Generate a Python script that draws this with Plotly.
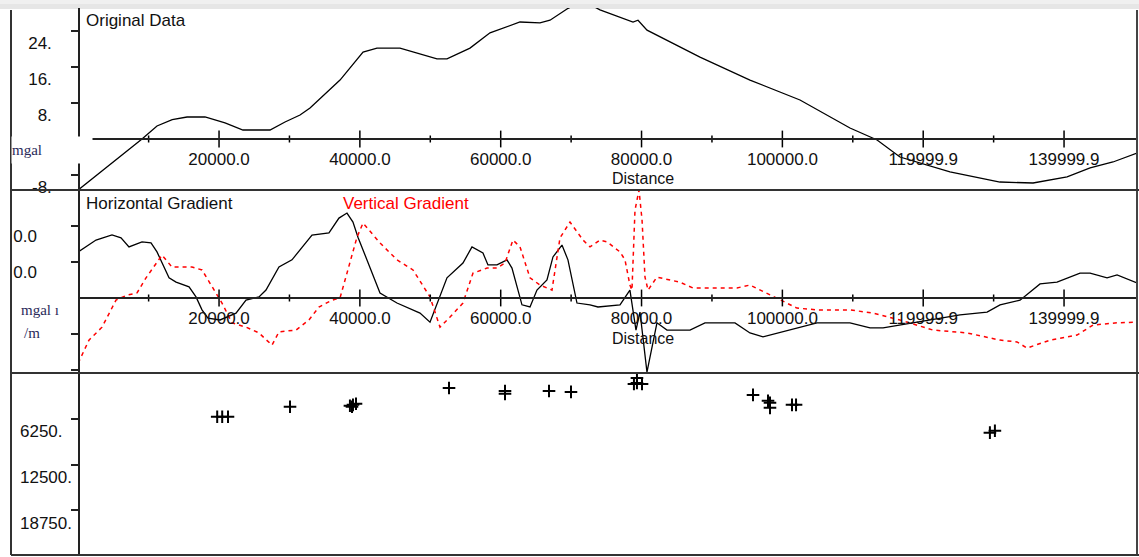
import plotly.graph_objects as go

# ---------------- data ----------------
# Panel 1: Original Data (mgal) vs Distance
orig_dist = [0, 9060, 11190, 13350, 15460, 18010, 20850, 23400, 27240, 29370, 31500, 32920,
             37180, 40450, 42430, 45700, 50950, 52370, 55640, 58480, 62740, 65580, 67000,
             69410, 71690, 74100, 78790, 79500, 80780, 84470, 88300, 95400, 102500, 109600,
             113450, 116700, 123800, 130900, 133750, 135600, 140430, 143700, 146950, 150360]
orig_val = [-11.33, 0.0, 2.89, 4.3, 4.89, 4.89, 3.56, 2.0, 2.0, 3.78, 5.33, 6.89,
            13.1, 19.3, 20.2, 20.2, 17.8, 17.8, 20.2, 23.6, 26.0, 25.8, 26.4,
            28.9, 30.7, 28.7, 26.0, 26.4, 24.2, 21.3, 18.2, 13.1, 8.67, 2.44,
            -0.22, -4.0, -7.33, -9.56, -9.78, -9.78, -8.44, -6.44, -5.11, -3.11]

# Panel 2: Horizontal gradient (units of tick step)
hg_dist = [0, 2530, 4800, 6080, 7210, 9060, 10340, 11190, 12900, 13900, 15740, 16730, 17580,
           18430, 20140, 22410, 23830, 25670, 26670, 28510, 30360, 33200, 35610, 37030,
           38170, 39020, 39730, 41010, 42860, 45270, 48540, 49960, 51380, 52370, 54640,
           55920, 57480, 58190, 59470, 60890, 61600, 63020, 64160, 65150, 66570, 67420,
           68700, 69550, 70830, 72680, 73810, 76940, 78350, 79210, 79780, 80770, 82190,
           83610, 86880, 89010, 93270, 95400, 97250, 100090, 102500, 104920, 109600,
           112450, 114300, 119130, 125230, 129070, 130910, 133750, 136590, 139000,
           142270, 143700, 146110, 147530, 150360]
hg_val = [1.28, 1.61, 1.75, 1.67, 1.42, 1.56, 1.53, 1.28, 0.56, 0.44, 0.31, 0.03, -0.33,
          -0.56, -0.61, -0.42, -0.06, 0.03, 0.22, 0.86, 1.06, 1.75, 1.81, 2.22,
          2.36, 2.11, 1.69, 1.06, 0.14, -0.14, -0.42, -0.67, 0.03, 0.56, 0.97,
          1.42, 1.25, 0.92, 0.92, 1.06, 0.83, -0.19, -0.25, 0.22, 0.5, 1.14,
          1.47, 1.06, -0.14, -0.19, -0.25, -0.19, 0.22, -0.89, -0.39, -2.06, -0.69,
          -0.89, -0.89, -0.69, -0.69, -0.97, -1.08, -0.94, -0.81, -0.69, -0.69,
          -0.83, -0.83, -0.67, -0.47, -0.39, -0.19, -0.06, 0.39, 0.44,
          0.69, 0.69, 0.56, 0.64, 0.42]

# Panel 2: Vertical gradient
vg_dist = [0, 1530, 3380, 5370, 6930, 8350, 9630, 11900, 13320, 16160, 17580, 19000, 20420,
           21840, 23830, 25670, 27520, 28510, 30930, 32770, 34190, 36040, 37180, 38170,
           39590, 40450, 42860, 45270, 47540, 49960, 51380, 52800, 54640, 56060, 58050,
           59470, 60600, 61740, 62740, 64160, 65580, 67280, 68420, 69840, 71690, 72680,
           74100, 75100, 76940, 77650, 78350, 78640, 79070, 79640, 80070, 80490, 80920,
           82190, 85460, 87300, 90140, 93550, 95400, 96820, 99230, 102070, 104920,
           109600, 112870, 116700, 121390, 126220, 130910, 133320, 134740, 138010,
           141840, 144120, 147530, 150360]
vg_val = [-1.81, -1.17, -0.81, -0.06, 0.08, 0.14, 0.56, 1.19, 0.86, 0.86, 0.78, 0.31, -0.14,
          -0.69, -0.81, -0.97, -1.31, -0.94, -0.89, -0.61, -0.25, -0.06, 0.0, 0.69,
          1.69, 2.08, 1.53, 1.06, 0.78, 0.03, -0.81, -0.53, -0.14, 0.69, 0.83,
          0.83, 0.97, 1.61, 1.42, 0.56, 0.36, 0.22, 1.67, 2.11, 1.61, 1.42,
          1.61, 1.56, 1.28, 1.06, 0.36, 0.22, 2.44, 3.0, 2.17, 0.58, 0.22,
          0.58, 0.44, 0.28, 0.28, 0.28, 0.36, 0.22, 0.0, -0.28, -0.33,
          -0.33, -0.42, -0.61, -0.89, -0.97, -1.17, -1.22, -1.39, -1.17,
          -1.03, -0.75, -0.69, -0.67]

# Panel 3: depth solutions
depth_dist = [19740, 20450, 21270, 30080, 38590, 39020, 39450, 38880, 52660, 60610, 60610,
              66860, 69980, 78920, 79350, 80070, 79350, 95830, 98240, 98240, 97960,
              101370, 101940, 129470, 130180]
depth_val = [5980, 5980, 5980, 4620, 4480, 4350, 4210, 4620, 2040, 2450, 2850,
             2450, 2580, 1490, 1360, 1490, 680, 2990, 4080, 4760, 3800,
             4350, 4350, 8150, 7880]

# axis ticks / labels
x_major = [20000, 40000, 60000, 80000, 100000, 119999.9, 139999.9]
x_major_text = ["20000.0", "40000.0", "60000.0", "80000.0", "100000.0", "119999.9", "139999.9"]
x_minor = [10000, 30000, 50000, 70000, 90000, 109999.9, 129999.9]
y1_ticks = [-8, 8, 16, 24]
y1_text = ["-8.", "8.", "16.", "24."]
y2_ticks = [-2, -1, 1, 2]
y2_text = ["", "", "0.0", "0.0"]
y3_ticks = [0, 6250, 12500, 18750]
y3_text = ["", "6250.", "12500.", "18750."]

# ---------------- geometry ----------------
W, H = 1139, 557
def fx(p):
    return p / W
def fy(p):
    return 1 - p / H

X_END = 150360
FONT = "Liberation Sans, Arial, sans-serif"
SERIF = "Liberation Serif, DejaVu Serif, serif"
FS = 17

fig = go.Figure()

fig.add_trace(go.Scatter(x=orig_dist, y=orig_val, mode="lines", xaxis="x", yaxis="y",
                         line=dict(color="black", width=1.3)))
fig.add_trace(go.Scatter(x=hg_dist, y=hg_val, mode="lines", xaxis="x2", yaxis="y2",
                         line=dict(color="black", width=1.3)))
fig.add_trace(go.Scatter(x=vg_dist, y=vg_val, mode="lines", xaxis="x2", yaxis="y2",
                         line=dict(color="#ff0000", width=1.5, dash="4px,4px")))
fig.add_trace(go.Scatter(x=depth_dist, y=depth_val, mode="markers", xaxis="x3", yaxis="y3",
                         marker=dict(symbol="cross-thin", size=9, color="black",
                                     line=dict(color="black", width=2))))

# crossing tick marks on the in-panel distance axes
for xa, ya in (("x", "y"), ("x2", "y2")):
    fig.add_trace(go.Scatter(x=x_major, y=[0] * len(x_major), mode="markers", xaxis=xa, yaxis=ya,
                             cliponaxis=False,
                             marker=dict(symbol="line-ns", size=12, color="black",
                                         line=dict(color="black", width=1.5))))
    fig.add_trace(go.Scatter(x=x_minor, y=[0] * len(x_minor), mode="markers", xaxis=xa, yaxis=ya,
                             cliponaxis=False,
                             marker=dict(symbol="line-ns", size=5, color="black",
                                         line=dict(color="black", width=1.5))))

xdom = [fx(78.2), fx(1137)]
xcommon = dict(domain=xdom, range=[0, X_END], showgrid=False, zeroline=False, ticks="",
               automargin=False, tickvals=x_major, ticktext=x_major_text,
               tickfont=dict(family=FONT, size=FS, color="#111"))
ycommon = dict(anchor="free", position=fx(79), showgrid=False, zeroline=False, automargin=False,
               showline=True, linecolor="#222", linewidth=1.5,
               ticks="outside", ticklen=7, tickcolor="#222", tickwidth=1.5)

layout = dict(
    width=W, height=H, margin=dict(l=0, r=0, t=0, b=0, autoexpand=False),
    paper_bgcolor="white", plot_bgcolor="white", showlegend=False,
    xaxis=dict(**xcommon, anchor="free", position=fy(139), showline=True,
               linecolor="#222", linewidth=1.5, ticklabelstandoff=5),
    xaxis2=dict(**xcommon, anchor="free", position=fy(298), showline=True,
                linecolor="#222", linewidth=1.5, ticklabelstandoff=5, matches="x"),
    xaxis3=dict(domain=xdom, range=[0, X_END], anchor="y3", visible=False, matches="x",
                automargin=False),
    yaxis=dict(**ycommon, domain=[fy(190), fy(8)], range=[(139 - 190) / 4.5, (139 - 8) / 4.5],
               tickvals=y1_ticks, ticktext=y1_text, ticklabelshift=12, ticklabelstandoff=16,
               tickfont=dict(family=FONT, size=FS, color="#111")),
    yaxis2=dict(**ycommon, domain=[fy(373), fy(190)], range=[(298 - 373) / 36, (298 - 190) / 36],
                tickvals=y2_ticks, ticktext=y2_text, ticklabelshift=10, ticklabelstandoff=31,
                tickfont=dict(family=FONT, size=FS, color="#111")),
    yaxis3=dict(**ycommon, domain=[fy(555), fy(373)], range=[(555 - 372) * 135.87, 0],
                tickvals=y3_ticks, ticktext=[""] * len(y3_ticks)),
)
fig.update_layout(**layout)

# frame and separators
shapes = [
    dict(type="rect", xref="paper", yref="paper", x0=0, x1=1, y0=fy(4), y1=1,
         fillcolor="#f0f0f0", line=dict(width=0), layer="below"),
    dict(type="rect", xref="paper", yref="paper", x0=0, x1=1, y0=fy(9), y1=fy(4),
         fillcolor="#e6e6e6", line=dict(width=0), layer="below"),
    dict(type="line", xref="paper", yref="paper", x0=fx(11), x1=fx(11), y0=fy(10), y1=fy(555),
         line=dict(color="#333", width=2)),
    dict(type="line", xref="paper", yref="paper", x0=fx(1137), x1=fx(1137), y0=fy(10), y1=fy(555),
         line=dict(color="#444", width=2)),
    dict(type="line", xref="paper", yref="paper", x0=fx(11), x1=fx(1139), y0=fy(190), y1=fy(190),
         line=dict(color="#333", width=2)),
    dict(type="line", xref="paper", yref="paper", x0=fx(11), x1=fx(1139), y0=fy(373), y1=fy(373),
         line=dict(color="#333", width=2)),
    dict(type="line", xref="paper", yref="paper", x0=fx(11), x1=fx(1139), y0=fy(555), y1=fy(555),
         line=dict(color="#333", width=2)),
]
fig.update_layout(shapes=shapes)

ann = []
def text(t, x, y, color="#111", size=FS, xanchor="left", family=FONT, **kw):
    ann.append(dict(text=t, xref="paper", yref="paper", x=fx(x), y=fy(y), xanchor=xanchor,
                    yanchor="middle", showarrow=False,
                    font=dict(family=family, size=size, color=color), **kw))

text("Original Data", 84, 20)
text("Horizontal Gradient", 84, 204)
text("Vertical Gradient", 341, 204, color="#ff0000")
text("Distance", 643, 178, xanchor="center", size=16)
text("Distance", 643, 338, xanchor="center", size=16)
# unit label box (covers axis lines like the original control)
ann.append(dict(text="mgal", xref="paper", yref="paper", x=fx(11), y=fy(150), xanchor="left",
                yanchor="middle", showarrow=False, width=80, height=26, align="left",
                bgcolor="white", borderpad=0,
                font=dict(family=SERIF, size=15, color="#2a2a5a")))
text("mgal \u0131", 19, 310, color="#2a2a5a", size=15, family=SERIF)
text("/m", 22, 333, color="#2a2a5a", size=15, family=SERIF)

# depth axis labels (left aligned as in the original)
for v, t in zip(y3_ticks, y3_text):
    if t:
        ann.append(dict(text=t, xref="paper", yref="y3", x=fx(18), y=v, yshift=-13,
                        xanchor="left", yanchor="middle", showarrow=False,
                        font=dict(family=FONT, size=FS, color="#111")))

fig.update_layout(annotations=ann)

fig.write_html("out.html")
